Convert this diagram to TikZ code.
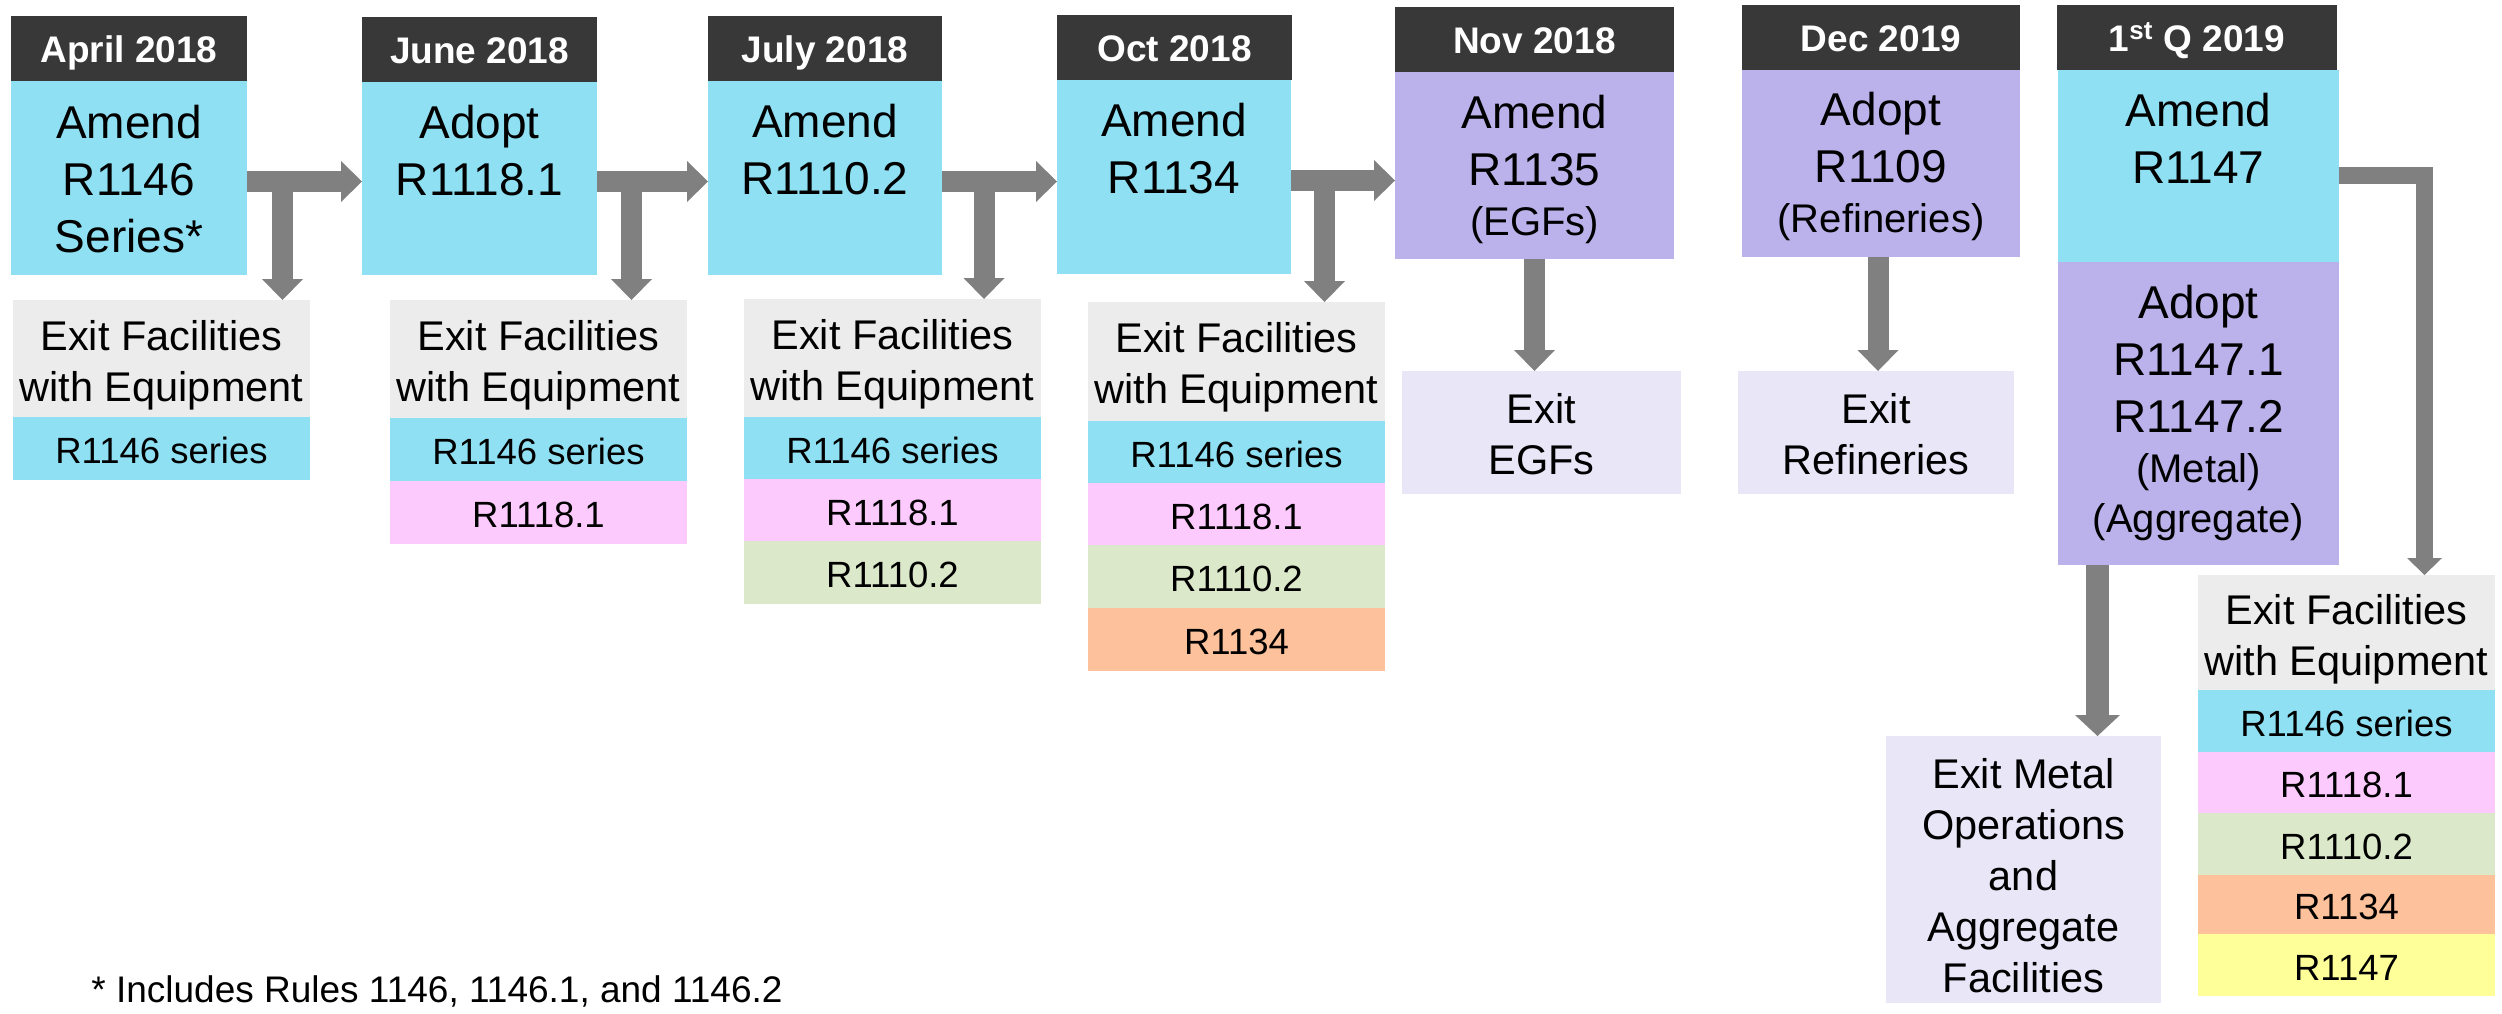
\documentclass[tikz,border=0pt]{standalone}
\usepackage{fontspec}
\setmainfont{Liberation Sans}
\usetikzlibrary{fit,arrows.meta}
\definecolor{hdrc}{RGB}{56,56,56}
\definecolor{blu}{RGB}{142,224,242}
\definecolor{pur}{RGB}{187,178,235}
\definecolor{lav}{RGB}{233,230,247}
\definecolor{gry}{RGB}{236,236,236}
\definecolor{pnk}{RGB}{253,202,253}
\definecolor{grn}{RGB}{220,232,202}
\definecolor{org}{RGB}{253,194,155}
\definecolor{ylw}{RGB}{255,255,153}
\definecolor{arrc}{RGB}{128,128,128}
\newcommand\hdrf{\fontsize{18.5}{22}\selectfont\bfseries}
\newcommand\mainf{\fontsize{23}{28.5}\selectfont}
\newcommand\subf{\fontsize{20}{24}\selectfont}
\newcommand\exitf{\fontsize{20.75}{25.5}\selectfont}
\newcommand\rowf{\fontsize{18.25}{22}\selectfont}
\newcommand\notef{\fontsize{18.5}{22}\selectfont}
\newcommand\tp{\rule{0pt}{20pt}}
\tikzset{
  bx/.style={inner sep=0pt, outer sep=0pt, draw=none},
  hdrt/.style={inner sep=0pt, outer sep=0pt, text=white, font=\hdrf, text height=13.25pt, text depth=0pt, anchor=center},
  rowt/.style={inner sep=0pt, outer sep=0pt, font=\rowf, text height=13.07pt, text depth=0pt, anchor=center},
  mtxt/.style={font=\mainf, align=center, inner sep=0pt, outer sep=0pt, anchor=north},
  etxt/.style={font=\exitf, align=center, inner sep=0pt, outer sep=0pt, anchor=north},
  fat/.style={draw=arrc, line width=10.5pt,
    -{Triangle[width=20.5pt, length=10.5pt, line width=0pt]}},
  fatb/.style={draw=arrc, line width=11.5pt,
    -{Triangle[width=22.5pt, length=10.5pt, line width=0pt]}},
  elb/.style={draw=arrc, line width=8.5pt, line join=miter,
    -{Triangle[width=17.5pt, length=8.5pt, line width=0pt]}},
}
% header box with centred white bold text
\newcommand\mkhdr[6]{%
  \node[bx, fill=hdrc, fit={(#2,#3)(#4,#5)}] (#1) {};
  \node[hdrt] (#1t) at ([yshift=-0.6pt]#1.center) {#6};}
% coloured row cell with centred text
\newcommand\mkcell[7]{%
  \node[bx, fill=#2, fit={(#3,#4)(#5,#6)}] (#1) {};
  \node[rowt] (#1t) at ([yshift=-1pt]#1.center) {#7};}
\begin{document}
\begin{tikzpicture}[x=0.5pt, y=-0.5pt]
\useasboundingbox (0,0) rectangle (2502,1013);

% ---------- column 1: April 2018
\mkhdr{h1}{11}{16}{247}{81}{April 2018}
\node[bx, fill=blu, fit={(11,81)(247,275)}] (b1) {};
\node[mtxt] (t1) at (129,98) {\tp Amend\\R1146\\Series*};
\node[bx, fill=gry, fit={(13,300)(310,417)}] (e1) {};
\node[etxt] (e1t) at (161.5,310) {\tp Exit Facilities\\with Equipment};
\mkcell{r1a}{blu}{13}{417}{310}{480}{R1146 series}

% ---------- column 2: June 2018
\mkhdr{h2}{362}{17}{597}{82}{June 2018}
\node[bx, fill=blu, fit={(362,82)(597,275)}] (b2) {};
\node[mtxt] (t2) at (479.5,98) {\tp Adopt\\R1118.1};
\node[bx, fill=gry, fit={(390,300)(687,418)}] (e2) {};
\node[etxt] (e2t) at (538.5,310) {\tp Exit Facilities\\with Equipment};
\mkcell{r2a}{blu}{390}{418}{687}{481}{R1146 series}
\mkcell{r2b}{pnk}{390}{481}{687}{544}{R1118.1}

% ---------- column 3: July 2018
\mkhdr{h3}{708}{16}{942}{81}{July 2018}
\node[bx, fill=blu, fit={(708,81)(942,275)}] (b3) {};
\node[mtxt] (t3) at (825,97) {\tp Amend\\R1110.2};
\node[bx, fill=gry, fit={(744,299)(1041,417)}] (e3) {};
\node[etxt] (e3t) at (892.5,309) {\tp Exit Facilities\\with Equipment};
\mkcell{r3a}{blu}{744}{417}{1041}{479}{R1146 series}
\mkcell{r3b}{pnk}{744}{479}{1041}{541}{R1118.1}
\mkcell{r3c}{grn}{744}{541}{1041}{604}{R1110.2}

% ---------- column 4: Oct 2018
\mkhdr{h4}{1057}{15}{1292}{80}{Oct 2018}
\node[bx, fill=blu, fit={(1057,80)(1291,274)}] (b4) {};
\node[mtxt] (t4) at (1174,96) {\tp Amend\\R1134};
\node[bx, fill=gry, fit={(1088,302)(1385,421)}] (e4) {};
\node[etxt] (e4t) at (1236.5,312) {\tp Exit Facilities\\with Equipment};
\mkcell{r4a}{blu}{1088}{421}{1385}{483}{R1146 series}
\mkcell{r4b}{pnk}{1088}{483}{1385}{545}{R1118.1}
\mkcell{r4c}{grn}{1088}{545}{1385}{608}{R1110.2}
\mkcell{r4d}{org}{1088}{608}{1385}{671}{R1134}

% ---------- column 5: Nov 2018
\mkhdr{h5}{1395}{7}{1674}{72}{Nov 2018}
\node[bx, fill=pur, fit={(1395,72)(1674,259)}] (b5) {};
\node[mtxt] (t5) at (1534.5,88) {\tp Amend\\R1135\\[-3.5pt]{\subf (EGFs)}};
\node[bx, fill=lav, fit={(1402,371)(1681,494)}] (x5) {};
\node[etxt] (x5t) at (1541.5,383) {\tp Exit\\EGFs};

% ---------- column 6: Dec 2019
\mkhdr{h6}{1742}{5}{2020}{70}{Dec 2019}
\node[bx, fill=pur, fit={(1742,70)(2020,257)}] (b6) {};
\node[mtxt] (t6) at (1881,85) {\tp Adopt\\R1109\\[-3.5pt]{\subf (Refineries)}};
\node[bx, fill=lav, fit={(1738,371)(2014,494)}] (x6) {};
\node[etxt] (x6t) at (1876,383) {\tp Exit\\Refineries};

% ---------- column 7: 1st Q 2019
\mkhdr{h7}{2057}{5}{2337}{70}{1\textsuperscript{st} Q 2019}
\node[bx, fill=blu, fit={(2058,70)(2339,262)}] (b7) {};
\node[mtxt] (t7) at (2198.5,86) {\tp Amend\\R1147};
\node[bx, fill=pur, fit={(2058,262)(2339,565)}] (a7) {};
\node[mtxt] (a7t) at (2198.5,278) {\tp Adopt\\R1147.1\\R1147.2\\[-3.5pt]{\subf (Metal)}\\[-3.5pt]{\subf (Aggregate)}};
\node[bx, fill=lav, fit={(1886,736)(2161,1003)}] (x7) {};
\node[etxt] (x7t) at (2023.5,748) {\tp Exit Metal\\Operations\\and\\Aggregate\\Facilities};
\node[bx, fill=gry, fit={(2198,575)(2495,690)}] (e7) {};
\node[etxt] (e7t) at (2346.5,584) {\tp Exit Facilities\\with Equipment};
\mkcell{r7a}{blu}{2198}{690}{2495}{752}{R1146 series}
\mkcell{r7b}{pnk}{2198}{752}{2495}{813}{R1118.1}
\mkcell{r7c}{grn}{2198}{813}{2495}{875}{R1110.2}
\mkcell{r7d}{org}{2198}{875}{2495}{934}{R1134}
\mkcell{r7e}{ylw}{2198}{934}{2495}{996}{R1147}

% ---------- footnote
\node[font=\notef, anchor=base west, inner sep=0pt] (note) at (91,1002) {* Includes Rules 1146, 1146.1, and 1146.2};

% ---------- connectors
\coordinate (p1) at ([yshift=-1.75pt]b1.east);
\coordinate (p2) at ([yshift=-1.5pt]b2.east);
\coordinate (p3) at ([yshift=-1.75pt]b3.east);
\coordinate (p4) at ([yshift=-1.75pt]b4.east);
\coordinate (j1) at (282.5,171);
\coordinate (j2) at (631.5,171);
\coordinate (j3) at (984,171);
\coordinate (j4) at (1324.5,170);

\draw[fat] (p1) -- (p1 -| b2.west);
\draw[fat] (j1) -- (j1 |- e1.north);
\draw[fat] (p2) -- (p2 -| b3.west);
\draw[fat] (j2) -- (j2 |- e2.north);
\draw[fat] (p3) -- (p3 -| b4.west);
\draw[fat] (j3) -- (j3 |- e3.north);
\draw[fat] (p4) -- (p4 -| b5.west);
\draw[fat] (j4) -- (j4 |- e4.north);

\draw[fat] (b5.south) -- (b5.south |- x5.north);
\draw[fat] ([xshift=-1.5pt]b6.south) -- ([xshift=-1.5pt]b6.south |- x6.north);

\coordinate (q1) at ([yshift=-4.5pt]b7.east);
\coordinate (q2) at (2424.5,175);
\draw[elb] (q1) -- (q2) -- (q2 |- e7.north);
\coordinate (m7) at (2097.5,565);
\draw[fatb] (m7) -- (m7 |- x7.north);
\end{tikzpicture}
\end{document}
